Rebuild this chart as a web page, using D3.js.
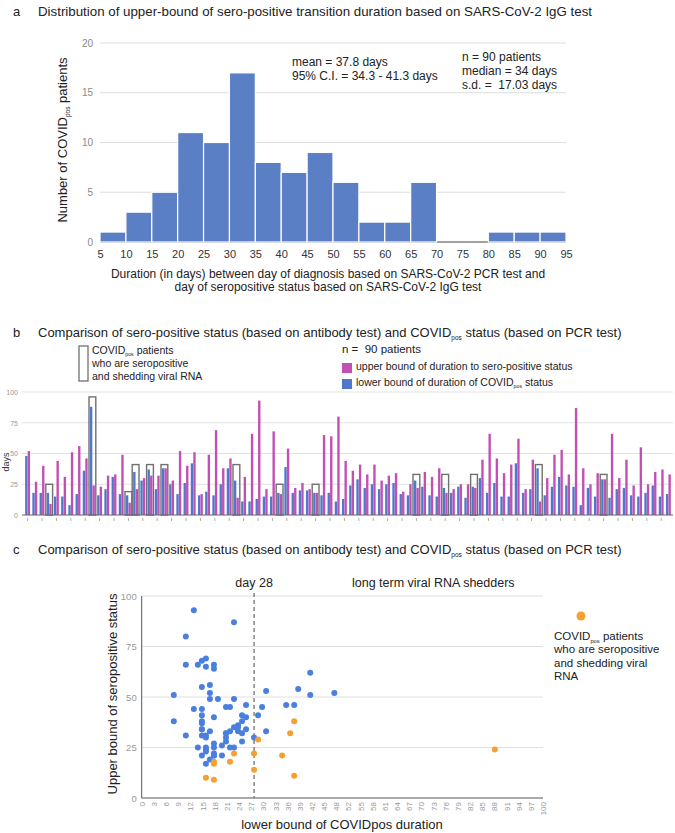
<!DOCTYPE html>
<html>
<head>
<meta charset="utf-8">
<script src="https://cdn.jsdelivr.net/npm/d3@7"></script>
<style>
  body { margin: 0; background: #fff; }
  text { font-family: "Liberation Sans", Arial, sans-serif; white-space: pre; }
</style>
</head>
<body>
<div id="chart"></div>
<script>
// ---- panel a : histogram of upper bound (days) ----
const histEdges = [5, 10, 15, 20, 25, 30, 35, 40, 45, 50, 55, 60, 65, 70, 75, 80, 85, 90, 95];
const histCounts = [1, 3, 5, 11, 10, 17, 8, 7, 9, 6, 2, 2, 6, 0, 0, 1, 1, 1];
const histYTicks = [0, 5, 10, 15, 20];

// ---- panel b : per patient bars ----
const lowerBound = [48, 18, 18, 18, 15, 15, 8, 17, 36, 88,
  16, 21, 31, 17, 16, 35, 28, 37, 21, 38,
  25, 17, 26, 42, 16, 19, 16, 25, 38, 28,
  11, 11, 13, 15, 15, 18, 39, 18, 20, 20,
  18, 16, 18, 11, 13, 24, 29, 22, 25, 21,
  25, 26, 17, 16, 28, 23, 16, 15, 22, 18,
  23, 14, 23, 30, 18, 26, 15, 15, 42, 18,
  21, 38, 16, 23, 31, 24, 23, 8, 22, 15,
  29, 14, 21, 22, 16, 15, 18, 24, 15, 17];
const upperBound = [52, 27, 40, 9, 44, 31, 51, 56, 46, 24,
  23, 32, 33, 49, 10, 21, 30, 32, 32, 38,
  28, 52, 40, 51, 17, 49, 69, 38, 46, 14,
  31, 66, 93, 21, 68, 17, 54, 22, 26, 21,
  18, 65, 64, 80, 44, 36, 41, 33, 41, 28,
  32, 34, 19, 25, 22, 35, 31, 38, 18, 21,
  25, 25, 22, 45, 66, 46, 34, 41, 62, 21,
  45, 11, 30, 49, 53, 33, 87, 38, 25, 34,
  29, 66, 30, 45, 24, 55, 25, 35, 37, 33];
// patients who are seropositive and still shedding viral RNA (index, top of outline box)
const shedIdx = [3, 9, 14, 15, 17, 19, 29, 35, 40, 54, 58, 62, 71, 80];
const shedBoxTop = [25, 96, 19, 41, 41, 41, 41, 25, 25, 33, 33, 33, 41, 33];
const daysTicks = [0, 25, 50, 75, 100];

// ---- panel c : scatter ----
const scatterXTicks = ["0","3","6","9","12","15","18","21","24","27","30","33","36","39","42","45","48",
  "52","55","58","61","64","67","70","73","76","79","82","85","88","91","94","97","100"];
const scatterYTicks = [0, 25, 50, 75, 100];
const dayMark = 28;

const W = 675, H = 833;
const blue = "#5a7fc5", barBlue = "#4f78cc", magenta = "#c34fb3";
const dotBlue = "#4a7fe0", orange = "#f5a030";

const svg = d3.select("#chart").append("svg")
  .attr("width", W).attr("height", H)
  .attr("xmlns", "http://www.w3.org/2000/svg");
svg.append("rect").attr("width", W).attr("height", H).attr("fill", "#fff");

// text helper with "pos" subscript
function covidText(g, x, y, before, after, size, anchor) {
  const t = g.append("text").attr("x", x).attr("y", y)
    .attr("font-size", size).attr("fill", "#222")
    .attr("text-anchor", anchor || "start");
  t.append("tspan").text(before);
  t.append("tspan").attr("font-size", size * 0.5).attr("dy", size * 0.22).text("pos");
  t.append("tspan").attr("dy", -size * 0.22).text(after);
  return t;
}

/* ================= panel a ================= */
svg.append("text").attr("x", 13).attr("y", 16).attr("font-size", 13).attr("fill", "#222").text("a");
svg.append("text").attr("x", 38).attr("y", 16).attr("font-size", 13).attr("fill", "#222")
  .attr("textLength", 554).attr("lengthAdjust", "spacingAndGlyphs")
  .text("Distribution of upper-bound of sero-positive transition duration based on SARS-CoV-2 IgG test");

const xA = d3.scaleLinear().domain([5, 95]).range([100, 566]);
const yA = d3.scaleLinear().domain([0, 20]).range([242, 43]);

const gA = svg.append("g");
gA.append("g").selectAll("line").data(histYTicks.slice(1)).join("line")
  .attr("x1", xA(5)).attr("x2", xA(95))
  .attr("y1", d => yA(d)).attr("y2", d => yA(d))
  .attr("stroke", "#dedede");
gA.append("line").attr("x1", xA(5)).attr("x2", xA(95))
  .attr("y1", yA(0)).attr("y2", yA(0)).attr("stroke", "#444");

gA.append("g").selectAll("rect").data(histCounts).join("rect")
  .attr("x", (d, i) => xA(histEdges[i]))
  .attr("width", (d, i) => xA(histEdges[i + 1]) - xA(histEdges[i]))
  .attr("y", d => yA(d))
  .attr("height", d => yA(0) - yA(d))
  .attr("fill", blue).attr("stroke", "#fff").attr("stroke-width", 1.2);

const axYA = gA.append("g").attr("transform", `translate(${xA(5) - 4},0)`)
  .call(d3.axisLeft(yA).tickValues(histYTicks).tickSize(0).tickPadding(3));
axYA.select(".domain").remove();
axYA.selectAll("text").attr("font-size", 10).attr("fill", "#888");

const axXA = gA.append("g").attr("transform", `translate(0,${yA(0) + 4})`)
  .call(d3.axisBottom(xA).tickValues(histEdges).tickSize(0).tickPadding(4));
axXA.select(".domain").remove();
axXA.selectAll("text").attr("font-size", 11).attr("fill", "#333");

covidText(gA, 0, 0, "Number of COVID", " patients", 13, "middle")
  .attr("transform", "translate(67,140) rotate(-90)");

gA.append("text").attr("x", 292).attr("y", 66).attr("font-size", 12).attr("fill", "#222").text("mean = 37.8 days");
gA.append("text").attr("x", 292).attr("y", 80).attr("font-size", 12).attr("fill", "#222").text("95% C.I. = 34.3 - 41.3 days");
gA.append("text").attr("x", 462).attr("y", 61).attr("font-size", 12).attr("fill", "#222").text("n = 90 patients");
gA.append("text").attr("x", 462).attr("y", 75).attr("font-size", 12).attr("fill", "#222").text("median = 34 days");
gA.append("text").attr("x", 462).attr("y", 89).attr("font-size", 12).attr("fill", "#222").text("s.d. =  17.03 days");

gA.append("text").attr("x", 328).attr("y", 278).attr("font-size", 12).attr("fill", "#222")
  .attr("text-anchor", "middle")
  .text("Duration (in days) between day of diagnosis based on SARS-CoV-2 PCR test and");
gA.append("text").attr("x", 328).attr("y", 291).attr("font-size", 12).attr("fill", "#222")
  .attr("text-anchor", "middle")
  .text("day of seropositive status based on SARS-CoV-2 IgG test");

/* ================= panel b ================= */
svg.append("text").attr("x", 13).attr("y", 337).attr("font-size", 13).attr("fill", "#222").text("b");
covidText(svg, 38, 337, "Comparison of sero-positive status (based on antibody test) and COVID",
  " status (based on PCR test)", 13);

const xB = d3.scaleBand().domain(d3.range(lowerBound.length)).range([24, 672]).paddingInner(0.28).paddingOuter(0.14);
const sub = d3.scaleBand().domain(["lower", "upper"]).range([0, xB.bandwidth()]).padding(0.06);
const yB = d3.scaleLinear().domain([0, 100]).range([515, 392]);

const gB = svg.append("g");
gB.append("g").selectAll("line").data(daysTicks.slice(1)).join("line")
  .attr("x1", 22).attr("x2", 673)
  .attr("y1", d => yB(d)).attr("y2", d => yB(d))
  .attr("stroke", "#e2e2e2");

const axYB = gB.append("g").attr("transform", "translate(20,0)")
  .call(d3.axisLeft(yB).tickValues(daysTicks).tickSize(0).tickPadding(2));
axYB.select(".domain").remove();
axYB.selectAll("text").attr("font-size", 7).attr("fill", "#999");

gB.append("text").attr("transform", "translate(9,462) rotate(-90)")
  .attr("text-anchor", "middle").attr("font-size", 9).attr("fill", "#333").text("days");

// outline boxes behind bars
gB.append("g").selectAll("rect").data(shedIdx).join("rect")
  .attr("x", d => xB(d) + xB.bandwidth() / 2 - xB.step() / 2 + 0.2)
  .attr("width", xB.step() - 0.4)
  .attr("y", (d, i) => yB(shedBoxTop[i]))
  .attr("height", (d, i) => yB(0) - yB(shedBoxTop[i]))
  .attr("fill", "none").attr("stroke", "#707070").attr("stroke-width", 1.4);

const pairs = gB.append("g").selectAll("g").data(lowerBound).join("g")
  .attr("transform", (d, i) => `translate(${xB(i)},0)`);
pairs.append("rect")
  .attr("x", sub("lower")).attr("width", sub.bandwidth())
  .attr("y", d => yB(d)).attr("height", d => yB(0) - yB(d))
  .attr("fill", barBlue);
pairs.append("rect")
  .attr("x", sub("upper")).attr("width", sub.bandwidth())
  .attr("y", (d, i) => yB(upperBound[i])).attr("height", (d, i) => yB(0) - yB(upperBound[i]))
  .attr("fill", magenta);

gB.append("line").attr("x1", 22).attr("x2", 673)
  .attr("y1", yB(0)).attr("y2", yB(0)).attr("stroke", "#666");

// small category ticks
const axXB = gB.append("g").attr("transform", `translate(0,${yB(0) + 3})`)
  .call(d3.axisBottom(xB).tickValues(d3.range(0, lowerBound.length, 2)).tickSize(3).tickFormat(""));
axXB.select(".domain").remove();
axXB.selectAll("line").attr("stroke", "#aaa");

// legend b
gB.append("rect").attr("x", 79).attr("y", 346).attr("width", 9).attr("height", 35)
  .attr("fill", "none").attr("stroke", "#707070").attr("stroke-width", 1.3);
covidText(gB, 92, 354, "COVID", " patients", 10.5);
gB.append("text").attr("x", 92).attr("y", 367).attr("font-size", 10.5).attr("fill", "#222").text("who are seropositive");
gB.append("text").attr("x", 92).attr("y", 380).attr("font-size", 10.5).attr("fill", "#222").text("and shedding viral RNA");

gB.append("text").attr("x", 342).attr("y", 353).attr("font-size", 11.5).attr("fill", "#222").text("n =  90 patients");
gB.append("rect").attr("x", 342).attr("y", 363).attr("width", 10).attr("height", 10).attr("fill", magenta);
gB.append("text").attr("x", 356).attr("y", 370).attr("font-size", 10.5).attr("fill", "#222")
  .text("upper bound of duration to sero-positive status");
gB.append("rect").attr("x", 342).attr("y", 379).attr("width", 10).attr("height", 10).attr("fill", barBlue);
covidText(gB, 356, 386, "lower bound of duration of COVID", " status", 10.5);

/* ================= panel c ================= */
svg.append("text").attr("x", 13).attr("y", 554).attr("font-size", 13).attr("fill", "#222").text("c");
covidText(svg, 38, 554, "Comparison of sero-positive status (based on antibody test) and COVID",
  " status (based on PCR test)", 13);

const xC = d3.scaleLinear().domain([0, 100]).range([141.7, 543]);
const yC = d3.scaleLinear().domain([0, 100]).range([798, 596]);

const gC = svg.append("g");
gC.append("g").selectAll("line").data(scatterYTicks.slice(1)).join("line")
  .attr("x1", xC(0)).attr("x2", xC(100))
  .attr("y1", d => yC(d)).attr("y2", d => yC(d))
  .attr("stroke", "#e0e0e0");

const axYC = gC.append("g").attr("transform", `translate(${xC(0) - 2},0)`)
  .call(d3.axisLeft(yC).tickValues(scatterYTicks).tickSize(0).tickPadding(3));
axYC.select(".domain").remove();
axYC.selectAll("text").attr("font-size", 9.5).attr("fill", "#999");

const axXC = gC.append("g").attr("transform", `translate(0,${yC(0) + 2})`)
  .call(d3.axisBottom(xC)
    .tickValues(scatterXTicks.map((d, i) => i * 100 / (scatterXTicks.length - 1)))
    .tickFormat((d, i) => scatterXTicks[i]).tickSize(0).tickPadding(2));
axXC.select(".domain").remove();
axXC.selectAll("text").attr("font-size", 8).attr("fill", "#999")
  .attr("transform", "rotate(-90)").attr("text-anchor", "end")
  .attr("x", -2).attr("y", 0).attr("dy", "0.32em");

gC.append("line").attr("x1", xC(0)).attr("x2", xC(0)).attr("y1", yC(100)).attr("y2", yC(0)).attr("stroke", "#555");
gC.append("line").attr("x1", xC(0)).attr("x2", xC(100)).attr("y1", yC(0)).attr("y2", yC(0)).attr("stroke", "#555");

gC.append("line").attr("x1", xC(dayMark)).attr("x2", xC(dayMark))
  .attr("y1", yC(100) - 3).attr("y2", yC(0))
  .attr("stroke", "#666").attr("stroke-width", 1.2).attr("stroke-dasharray", "4,3");

gC.append("text").attr("x", xC(dayMark)).attr("y", 587).attr("text-anchor", "middle")
  .attr("font-size", 12.5).attr("fill", "#222").text("day 28");
gC.append("text").attr("x", 352).attr("y", 587)
  .attr("font-size", 12.5).attr("fill", "#222").text("long term viral RNA shedders");

const shedSet = new Set(shedIdx);
const pts = lowerBound.map((d, i) => ({ x: d, y: upperBound[i], shed: shedSet.has(i) }));
gC.append("g").selectAll("circle")
  .data(pts.filter(p => !p.shed).concat(pts.filter(p => p.shed))).join("circle")
  .attr("cx", d => xC(d.x)).attr("cy", d => yC(d.y)).attr("r", 3)
  .attr("fill", d => d.shed ? orange : dotBlue);

gC.append("text").attr("transform", "translate(117,694) rotate(-90)").attr("text-anchor", "middle")
  .attr("font-size", 13).attr("fill", "#222").text("Upper bound of seropositive status");
gC.append("text").attr("x", 342).attr("y", 829).attr("text-anchor", "middle")
  .attr("font-size", 13).attr("fill", "#222").text("lower bound of COVIDpos duration");

// legend c
gC.append("circle").attr("cx", 581).attr("cy", 616).attr("r", 4.5).attr("fill", orange);
covidText(gC, 554, 640, "COVID", " patients", 11.5);
gC.append("text").attr("x", 554).attr("y", 653).attr("font-size", 11.5).attr("fill", "#222").text("who are seropositive");
gC.append("text").attr("x", 554).attr("y", 667).attr("font-size", 11.5).attr("fill", "#222").text("and shedding viral");
gC.append("text").attr("x", 554).attr("y", 680).attr("font-size", 11.5).attr("fill", "#222").text("RNA");
</script>
</body>
</html>
